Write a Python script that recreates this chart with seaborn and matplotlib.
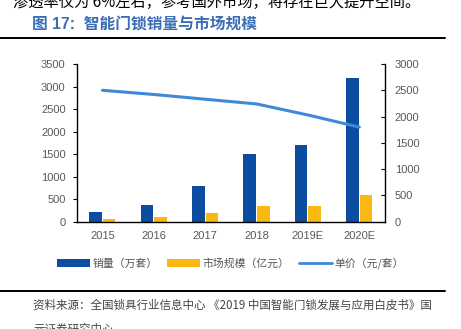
import matplotlib
matplotlib.use("Agg")
import matplotlib.pyplot as plt
from matplotlib.lines import Line2D
from matplotlib.patches import Patch
import seaborn as sns
import pandas as pd

years = ["2015", "2016", "2017", "2018", "2019E", "2020E"]
sales = [210, 360, 800, 1500, 1700, 3200]          # 销量（万套）
market = [55, 100, 190, 340, 355, 585]             # 市场规模（亿元）
price = [2500, 2420, 2330, 2240, 2030, 1800]       # 单价（元/套）
series_names = ["销量（万套）", "市场规模（亿元）", "单价（元/套）"]
left_ticks = [0, 500, 1000, 1500, 2000, 2500, 3000, 3500]
right_ticks = [0, 500, 1000, 1500, 2000, 2500, 3000]

sns.set_theme(style="white")
plt.rcParams["font.family"] = ["Liberation Sans", "Noto Sans CJK SC", "DejaVu Sans"]
cjk = ["Noto Sans CJK SC", "DejaVu Sans"]

BLUE = "#0c4da2"
YELLOW = "#f9b912"
LINE = "#3f8ad8"
TICK = "#595959"

W, H = 461, 329
fig = plt.figure(figsize=(W / 100, H / 100), dpi=100)
ax = fig.add_axes([76.7 / W, 1 - 221.7 / H, (385 - 76.7) / W, (221.7 - 64) / H])

df = pd.DataFrame({
    "year": years * 2,
    "value": sales + market,
    "series": [series_names[0]] * len(years) + [series_names[1]] * len(years),
})
sns.barplot(data=df, x="year", y="value", hue="series", order=years,
            palette=[BLUE, YELLOW], width=0.53, gap=0.08, ax=ax,
            legend=False, linewidth=0, saturation=1)
ax.set_ylim(0, 3500)
ax.set_yticks(left_ticks)
ax.set_xlabel("")
ax.set_ylabel("")

ax2 = ax.twinx()
sns.pointplot(x=years, y=price, order=years, color=LINE, marker="",
              linestyle="-", linewidth=2.2, ax=ax2)
ax2.set_ylim(0, 3000)
ax2.set_yticks(right_ticks)
ax2.set_xlim(-0.5, len(years) - 0.5)
ax2.set_ylabel("")

for a in (ax, ax2):
    a.spines["top"].set_visible(False)
    for s in ("left", "right", "bottom"):
        a.spines[s].set_color("black")
        a.spines[s].set_linewidth(1.0)
    a.tick_params(axis="y", labelsize=8, labelcolor=TICK, color="black",
                  length=3, width=0.8)
ax.spines["right"].set_visible(False)
ax2.spines["left"].set_visible(False)
ax2.spines["bottom"].set_visible(False)
ax.tick_params(axis="y", direction="out", pad=5)
ax2.tick_params(axis="y", direction="in", pad=7)

ax.set_xticks(range(len(years)))
ax.set_xticklabels(years)
ax.set_xticks([i + 0.5 for i in range(len(years) - 1)], minor=True)
ax.tick_params(axis="x", which="major", length=0, labelsize=8,
               labelcolor=TICK, pad=7)
ax.tick_params(axis="x", which="minor", length=3, direction="in",
               color="#444444", width=1.0)

handles = [Patch(facecolor=BLUE, edgecolor="none"),
           Patch(facecolor=YELLOW, edgecolor="none"),
           Line2D([], [], color=LINE, linewidth=2)]
fig.legend(handles, series_names, loc="center", ncol=3,
           bbox_to_anchor=(230.5 / W, 1 - 263.5 / H), frameon=False,
           prop={"family": cjk, "size": 7.8}, handlelength=3.0,
           handleheight=0.65, handletextpad=0.25, columnspacing=0.9,
           labelcolor="#555555")

# Page texts
fig.text(420 / W, 1 - 6.5 / H, "渗透率仅为 6%左右，参考国外市场，将存在巨大提升空间。",
         ha="right", va="baseline", fontsize=11, family=cjk, color="black")
fig.text(32.5 / W, 1 - 25 / H, "图 17:  智能门锁销量与市场规模", ha="left",
         va="center", fontsize=11.3, family=["Liberation Sans", "Noto Sans CJK SC"],
         color="#3b6db5", fontweight="bold")
fig.add_artist(Line2D([0, 445 / W], [1 - 38 / H] * 2, color="black", linewidth=1.4))
fig.add_artist(Line2D([0, 445 / W], [1 - 290.5 / H] * 2, color="black", linewidth=1.4))
fig.text(33 / W, 1 - 305 / H,
         "资料来源：全国锁具行业信息中心 《2019 中国智能门锁发展与应用白皮书》国",
         ha="left", va="center", fontsize=8.3, family=cjk, color="#444444")
fig.text(33 / W, 1 - 323 / H, "元证券研究中心",
         ha="left", va="top", fontsize=8.3, family=cjk, color="#444444")

fig.savefig("out.png", dpi=100)
